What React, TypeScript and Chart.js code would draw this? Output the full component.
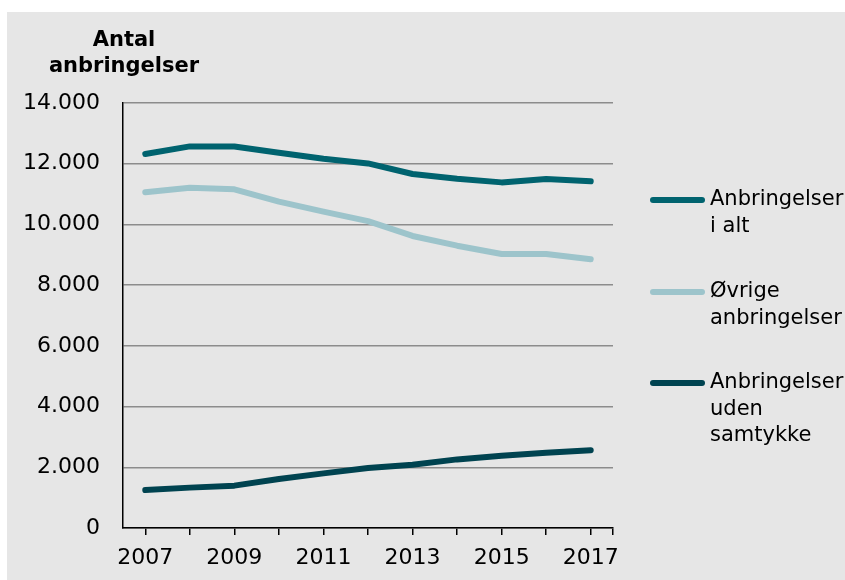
import React, { useEffect, useRef } from "react";
import { Chart, registerables } from "chart.js";

Chart.register(...registerables);

const years = [2007, 2008, 2009, 2010, 2011, 2012, 2013, 2014, 2015, 2016, 2017];
const totalValues = [12320, 12570, 12570, 12360, 12165, 12010, 11660, 11505, 11385, 11495, 11420];
const otherValues = [11060, 11210, 11155, 10750, 10420, 10110, 9620, 9300, 9025, 9025, 8850];
const noConsentValues = [1250, 1330, 1395, 1615, 1800, 1975, 2085, 2260, 2380, 2480, 2560];
const seriesLabels = [
  ["Anbringelser", "i alt"],
  ["Øvrige", "anbringelser"],
  ["Anbringelser", "uden", "samtykke"],
];
const titleLines = ["Antal", "anbringelser"];

const FONT = "'DejaVu Sans', Verdana, sans-serif";
const colors = ["#00636f", "#9dc4cb", "#004350"];

export default function App() {
  const ref = useRef<HTMLCanvasElement | null>(null);
  useEffect(() => {
    if (!ref.current) return;
    Chart.defaults.font.family = FONT;
    const mk = (vals: number[]) => years.map((y, i) => ({ x: y, y: vals[i] }));
    const legendPlugin = {
      id: "customLegend",
      afterDraw(chart: any) {
        const ctx = chart.ctx;
        const ca = chart.chartArea;
        const starts = [188, 280, 371];
        ctx.save();
        chart.data.datasets.forEach((ds: any, i: number) => {
          const y0 = starts[i];
          ctx.strokeStyle = ds.borderColor;
          ctx.lineWidth = 6;
          ctx.lineCap = "round";
          ctx.beginPath();
          ctx.moveTo(ca.right + 40, y0);
          ctx.lineTo(ca.right + 89, y0);
          ctx.stroke();
          ctx.fillStyle = "#000";
          ctx.font = `21px ${FONT}`;
          ctx.textBaseline = "middle";
          ctx.textAlign = "left";
          (ds.legendLines as string[]).forEach((t, j) => {
            ctx.fillText(t, ca.right + 97, y0 + j * 26.3);
          });
        });
        ctx.font = `bold 21px ${FONT}`;
        ctx.textAlign = "center";
        ctx.textBaseline = "middle";
        ctx.fillStyle = "#000";
        titleLines.forEach((t, j) => ctx.fillText(t, ca.left + 1, 29 + j * 25.5));
        ctx.restore();
      },
    };
    const chart = new Chart(ref.current, {
      type: "line",
      data: {
        datasets: [totalValues, otherValues, noConsentValues].map((v, i) => ({
          label: seriesLabels[i].join(" "),
          legendLines: seriesLabels[i],
          data: mk(v),
          borderColor: colors[i],
          backgroundColor: colors[i],
          borderWidth: 6,
          borderCapStyle: "round",
          borderJoinStyle: "round",
          pointRadius: 0,
          tension: 0,
        })) as any,
      },
      options: {
        animation: false,
        responsive: false,
        maintainAspectRatio: false,
        layout: { padding: { left: 0, top: 91, right: 232, bottom: 0 } },
        plugins: { legend: { display: false }, tooltip: { enabled: false }, title: { display: false } },
        scales: {
          x: {
            type: "linear",
            min: 2006.5,
            max: 2017.5,
            afterBuildTicks: (s: any) => {
              s.ticks = [...years, 2017.5].map((v) => ({ value: v }));
            },
            afterFit: (s: any) => { s.height = 52; },
            border: { display: true, color: "#000", width: 1.5 },
            grid: { drawOnChartArea: false, drawTicks: true, tickLength: 7, color: "#000", lineWidth: 1.5 },
            ticks: {
              autoSkip: false,
              maxRotation: 0,
              padding: 10,
              color: "#000",
              font: { size: 22, family: FONT },
              callback: (v: any) => {
                const n = Number(v);
                return Number.isInteger(n) && (n - 2007) % 2 === 0 ? String(n) : "";
              },
            },
          },
          y: {
            min: 0,
            max: 14000,
            afterFit: (s: any) => { s.width = 116; },
            border: { display: true, color: "#000", width: 1.5 },
            grid: { drawTicks: false, color: "#8c8c8c", lineWidth: 1.5 },
            ticks: {
              stepSize: 2000,
              padding: 23,
              color: "#000",
              font: { size: 22, family: FONT },
              callback: (v: any) => Number(v).toLocaleString("de-DE"),
            },
          },
        },
      },
      plugins: [legendPlugin],
    } as any);
    return () => chart.destroy();
  }, []);
  return (
    <div style={{ position: "absolute", left: 7, top: 12, width: 838, height: 568, background: "#e6e6e6" }}>
      <canvas ref={ref} width={838} height={568} style={{ display: "block" }} />
    </div>
  );
}
